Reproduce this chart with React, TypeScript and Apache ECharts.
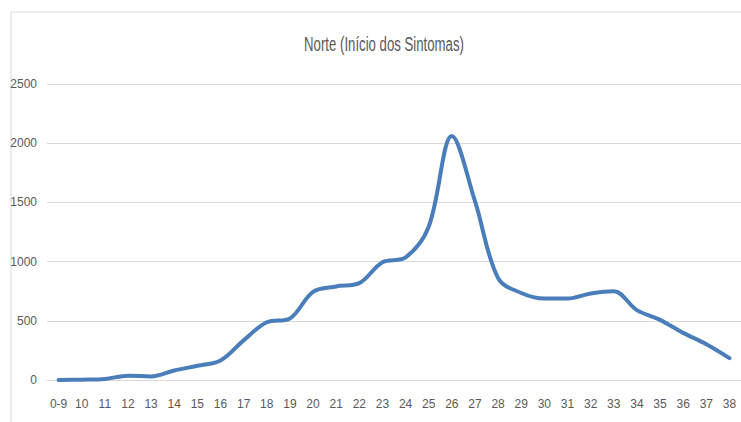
import React, { useEffect, useRef } from "react";
import * as echarts from "echarts";

const categories = ["0-9", "10", "11", "12", "13", "14", "15", "16", "17", "18", "19", "20", "21", "22", "23", "24", "25", "26", "27", "28", "29", "30", "31", "32", "33", "34", "35", "36", "37", "38"];
const values = [0, 3, 9, 36, 30, 80, 120, 165, 335, 488, 520, 745, 790, 818, 995, 1035, 1295, 2060, 1510, 860, 735, 688, 688, 730, 750, 590, 508, 398, 302, 185];
const yTicks = [0, 500, 1000, 1500, 2000, 2500];
const titleText = "Norte (Início dos Sintomas)";

export default function App() {
  const ref = useRef<HTMLDivElement>(null);
  useEffect(() => {
    if (!ref.current) return;
    const chart = echarts.init(ref.current, undefined, { renderer: "svg" });
    const font = "'Liberation Sans', Arial, sans-serif";
    chart.setOption({
      animation: false,
      backgroundColor: "#ffffff",
      graphic: [
        {
          type: "rect",
          shape: { x: 11, y: 12, width: 760, height: 440 },
          style: { fill: "none", stroke: "#d9d9d9", lineWidth: 1 },
          silent: true,
        },
        {
          type: "text",
          x: 384,
          y: 45,
          scaleX: 0.66,
          style: {
            text: titleText,
            x: 0,
            y: 0,
            align: "center",
            verticalAlign: "middle",
            fontFamily: font,
            fontSize: 20,
            fill: "#595959",
          },
          silent: true,
        },
      ],
      grid: { left: 47, top: 84, width: 697, height: 296, containLabel: false },
      xAxis: {
        type: "category",
        data: categories,
        boundaryGap: true,
        axisLine: { show: true, lineStyle: { color: "#d9d9d9" } },
        axisTick: { show: false },
        axisLabel: { fontFamily: font, fontSize: 12, color: "#595959", margin: 18, interval: 0 },
      },
      yAxis: {
        type: "value",
        min: yTicks[0],
        max: yTicks[yTicks.length - 1],
        interval: 500,
        axisLine: { show: false },
        axisTick: { show: false },
        splitLine: { lineStyle: { color: "#d9d9d9", width: 1 } },
        axisLabel: {
          fontFamily: font,
          fontSize: 12,
          color: "#595959",
          margin: 10,
          formatter: (v: number) => String(v),
        },
      },
      series: [
        {
          type: "line",
          data: values,
          smooth: 0.35,
          symbol: "none",
          lineStyle: { color: "#4a7ebb", width: 4, cap: "round", join: "round" },
        },
      ],
    });
    return () => chart.dispose();
  }, []);
  return <div ref={ref} style={{ position: "fixed", left: 0, top: 0, width: 741, height: 422 }} />;
}
